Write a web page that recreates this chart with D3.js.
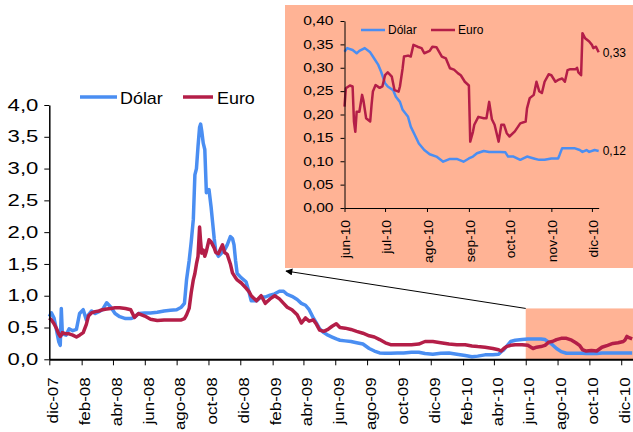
<!DOCTYPE html>
<html><head><meta charset="utf-8">
<script src="https://cdn.jsdelivr.net/npm/d3@7"></script>
<style>body{margin:0;background:#fff}svg{display:block}text{font-family:"Liberation Sans",Arial,sans-serif;fill:#000}</style>
</head><body><svg id="c" width="633" height="432"></svg>
<script>
// ---------- DATA ----------
const seriesNames = ["Dólar", "Euro"];

const mainDates = [
"2007-12-01","2007-12-05","2007-12-10","2007-12-15","2007-12-19","2007-12-22","2007-12-24","2007-12-26",
"2008-01-02","2008-01-08","2008-01-15","2008-01-22","2008-01-28","2008-02-04","2008-02-10","2008-02-14",
"2008-02-20","2008-02-27","2008-03-05","2008-03-12","2008-03-20","2008-03-28","2008-04-05","2008-04-14",
"2008-04-25","2008-05-05","2008-05-12","2008-05-20","2008-06-01","2008-06-12","2008-06-25","2008-07-08",
"2008-07-20","2008-08-01","2008-08-10","2008-08-16","2008-08-20","2008-08-25","2008-08-29","2008-09-02",
"2008-09-05","2008-09-08","2008-09-11","2008-09-14","2008-09-16","2008-09-18","2008-09-21","2008-09-24",
"2008-09-27","2008-10-02","2008-10-06","2008-10-09","2008-10-12","2008-10-15","2008-10-20","2008-10-25",
"2008-10-28","2008-11-01","2008-11-06","2008-11-12","2008-11-16","2008-11-19","2008-11-22","2008-11-25",
"2008-12-03","2008-12-12","2008-12-18","2008-12-22","2009-01-01","2009-01-10","2009-01-18","2009-01-27",
"2009-02-05","2009-02-14","2009-02-22","2009-03-01","2009-03-10","2009-03-20","2009-03-28","2009-04-05",
"2009-04-12","2009-04-20","2009-04-26","2009-05-02","2009-05-10","2009-05-18","2009-05-26","2009-06-03",
"2009-06-10","2009-06-20","2009-07-01","2009-07-12","2009-07-24","2009-08-05","2009-08-15","2009-08-25",
"2009-09-05","2009-09-15","2009-09-28","2009-10-10","2009-10-25","2009-11-08","2009-11-20","2009-12-05",
"2009-12-20","2010-01-05","2010-01-20","2010-02-05","2010-02-18","2010-03-01","2010-03-15","2010-03-30",
"2010-04-10","2010-04-15","2010-04-20","2010-04-25","2010-05-03","2010-05-12","2010-05-25","2010-06-05",
"2010-06-15","2010-06-22","2010-06-30","2010-07-08","2010-07-15","2010-07-22","2010-07-30","2010-08-08",
"2010-08-18","2010-08-28","2010-09-05","2010-09-12","2010-09-18","2010-09-25","2010-10-05","2010-10-15",
"2010-10-25","2010-11-05","2010-11-15","2010-11-25","2010-12-05","2010-12-08","2010-12-12","2010-12-16",
"2010-12-22"];

const mainDolar = [
0.67,0.73,0.65,0.45,0.28,0.22,0.80,0.40,
0.38,0.48,0.45,0.47,0.72,0.78,0.62,0.70,
0.76,0.72,0.75,0.78,0.89,0.82,0.72,0.67,
0.64,0.64,0.66,0.72,0.73,0.73,0.74,0.76,
0.77,0.78,0.82,0.88,1.25,1.55,1.85,2.20,
2.90,3.00,3.35,3.65,3.70,3.60,3.40,3.30,
2.62,2.67,2.40,2.15,1.90,1.70,1.62,1.66,
1.70,1.72,1.80,1.93,1.90,1.80,1.55,1.35,
1.28,1.22,1.05,0.92,0.92,0.98,0.98,1.01,
1.03,1.07,1.07,1.02,0.99,0.94,0.88,0.85,
0.78,0.65,0.57,0.48,0.42,0.38,0.35,0.32,
0.30,0.29,0.28,0.26,0.24,0.17,0.13,0.10,
0.095,0.095,0.10,0.10,0.11,0.11,0.09,0.08,
0.095,0.10,0.08,0.06,0.04,0.05,0.07,0.07,
0.08,0.12,0.15,0.20,0.28,0.30,0.31,0.32,
0.32,0.32,0.32,0.31,0.27,0.23,0.17,0.12,
0.095,0.095,0.095,0.095,0.095,0.09,0.09,0.09,
0.10,0.10,0.10,0.10,0.10,0.10,0.10,0.10,
0.10];

const mainEuro = [
0.65,0.62,0.56,0.48,0.40,0.36,0.38,0.42,
0.40,0.40,0.38,0.35,0.38,0.42,0.55,0.68,
0.73,0.75,0.76,0.78,0.79,0.80,0.81,0.81,
0.80,0.78,0.66,0.72,0.68,0.63,0.61,0.62,
0.62,0.62,0.62,0.64,0.70,0.80,1.05,1.25,
1.35,1.50,1.62,2.08,1.85,1.67,1.72,1.62,
1.70,1.88,1.85,1.80,1.75,1.68,1.66,1.75,
1.80,1.68,1.65,1.50,1.36,1.32,1.28,1.25,
1.20,1.12,1.06,1.00,0.92,1.00,0.88,0.95,
1.00,0.95,0.88,0.82,0.78,0.70,0.57,0.65,
0.60,0.62,0.55,0.46,0.44,0.47,0.52,0.56,
0.50,0.49,0.47,0.44,0.41,0.37,0.35,0.31,
0.26,0.23,0.23,0.23,0.23,0.24,0.28,0.28,
0.26,0.24,0.23,0.23,0.21,0.20,0.19,0.17,
0.15,0.13,0.17,0.20,0.22,0.23,0.23,0.22,
0.17,0.19,0.20,0.22,0.27,0.28,0.31,0.33,
0.33,0.30,0.26,0.22,0.15,0.13,0.14,0.13,
0.19,0.22,0.25,0.26,0.28,0.30,0.36,0.34,
0.32];

const mainTickDates = ["2007-12-01","2008-02-01","2008-04-01","2008-06-01","2008-08-01","2008-10-01","2008-12-01",
"2009-02-01","2009-04-01","2009-06-01","2009-08-01","2009-10-01","2009-12-01","2010-02-01","2010-04-01",
"2010-06-01","2010-08-01","2010-10-01","2010-12-01"];
const mainTickLabels = ["dic-07","feb-08","abr-08","jun-08","ago-08","oct-08","dic-08","feb-09","abr-09","jun-09",
"ago-09","oct-09","dic-09","feb-10","abr-10","jun-10","ago-10","oct-10","dic-10"];
const mainYTicks = [0,0.5,1,1.5,2,2.5,3,3.5,4];
const zoomWindow = ["2010-06-01", 0.8];   // highlighted period in main chart

const insetDolarDates = ["2010-06-01","2010-06-03","2010-06-07","2010-06-10","2010-06-12","2010-06-16","2010-06-20","2010-06-22",
"2010-06-26","2010-06-28","2010-07-01","2010-07-03","2010-07-07","2010-07-09","2010-07-12","2010-07-14","2010-07-18",
"2010-07-20","2010-07-23","2010-07-26","2010-07-30","2010-08-03","2010-08-08","2010-08-13","2010-08-18","2010-08-23",
"2010-08-28","2010-09-01","2010-09-04","2010-09-07","2010-09-12","2010-09-16","2010-09-24","2010-09-28","2010-09-30",
"2010-10-04","2010-10-09","2010-10-14","2010-10-19","2010-10-23","2010-10-27","2010-11-01","2010-11-06","2010-11-07",
"2010-11-09","2010-11-13","2010-11-18","2010-11-22","2010-11-24","2010-11-27","2010-11-29","2010-12-03","2010-12-06"];
const insetDolar = [0.334,0.342,0.338,0.331,0.336,0.342,0.333,0.324,
0.306,0.292,0.267,0.260,0.252,0.238,0.227,0.210,0.195,
0.174,0.156,0.138,0.124,0.115,0.110,0.099,0.105,0.105,
0.099,0.106,0.110,0.117,0.122,0.120,0.120,0.119,0.110,
0.110,0.103,0.110,0.106,0.103,0.103,0.106,0.106,0.113,
0.128,0.128,0.128,0.124,0.120,0.124,0.120,0.124,0.122];

const insetEuroDates = ["2010-06-01","2010-06-02","2010-06-05","2010-06-07","2010-06-08","2010-06-09","2010-06-10","2010-06-12",
"2010-06-14","2010-06-15","2010-06-17","2010-06-20","2010-06-21","2010-06-22","2010-06-24","2010-06-27","2010-06-29",
"2010-07-01","2010-07-03","2010-07-06","2010-07-08","2010-07-11","2010-07-12","2010-07-14","2010-07-15","2010-07-18",
"2010-07-20","2010-07-22","2010-07-25","2010-07-28","2010-07-30","2010-08-03","2010-08-05","2010-08-08","2010-08-12",
"2010-08-15","2010-08-18","2010-08-21","2010-08-24","2010-08-26","2010-08-29","2010-09-01","2010-09-02","2010-09-04",
"2010-09-05","2010-09-08","2010-09-12","2010-09-14","2010-09-16","2010-09-18","2010-09-20","2010-09-23","2010-09-25",
"2010-09-27","2010-09-29","2010-10-01","2010-10-05","2010-10-09","2010-10-13","2010-10-14","2010-10-16","2010-10-19",
"2010-10-21","2010-10-23","2010-10-25","2010-10-27","2010-10-30","2010-11-01","2010-11-04","2010-11-06","2010-11-09",
"2010-11-11","2010-11-13","2010-11-15","2010-11-19","2010-11-20","2010-11-21","2010-11-23","2010-11-24","2010-11-26",
"2010-11-29","2010-12-01","2010-12-02","2010-12-04","2010-12-06"];
const insetEuro = [0.217,0.256,0.262,0.260,0.185,0.163,0.206,0.206,
0.242,0.230,0.192,0.185,0.220,0.249,0.263,0.257,0.260,
0.284,0.290,0.281,0.252,0.249,0.260,0.299,0.324,0.326,
0.324,0.349,0.345,0.342,0.331,0.336,0.345,0.344,0.324,
0.320,0.299,0.296,0.288,0.284,0.270,0.262,0.142,0.163,
0.178,0.195,0.192,0.192,0.227,0.190,0.178,0.142,0.178,
0.178,0.160,0.153,0.164,0.181,0.185,0.213,0.235,0.242,
0.270,0.250,0.246,0.270,0.286,0.284,0.270,0.274,0.277,
0.270,0.295,0.297,0.297,0.300,0.290,0.284,0.374,0.363,
0.356,0.349,0.342,0.345,0.333];

const insetTickDates = ["2010-06-01","2010-07-01","2010-08-01","2010-09-01","2010-10-01","2010-11-01","2010-12-01"];
const insetTickLabels = ["jun-10","jul-10","ago-10","sep-10","oct-10","nov-10","dic-10"];
const insetYTicks = [0,0.05,0.1,0.15,0.2,0.25,0.3,0.35,0.4];
const insetEndLabels = ["0,12","0,33"];

// ---------- DRAW ----------
const parse = d3.utcParse("%Y-%m-%d");
const BLUE = "#4A8EF2", RED = "#B41E48", SALMON = "#FFB395";
const svg = d3.select("#c");

const xMain = d3.scaleUtc().domain([parse("2007-12-01"), parse("2010-12-23")]).range([49.3, 632.7]);
const yMain = d3.scaleLinear().domain([0, 4]).range([359.3, 105]);

// zoom box in main chart
const zx0 = xMain(parse(zoomWindow[0])), zy0 = yMain(zoomWindow[1]);
svg.append("rect").attr("x", zx0).attr("y", zy0).attr("width", 633 - zx0).attr("height", yMain(0) - zy0).attr("fill", SALMON);

const mainD = mainDates.map(parse);
const lineMain = vals => d3.line().x((d, i) => xMain(mainD[i])).y(d => yMain(d))(vals);
svg.append("path").attr("d", lineMain(mainDolar)).attr("fill", "none").attr("stroke", BLUE).attr("stroke-width", 3.5).attr("stroke-linejoin", "round");
svg.append("path").attr("d", lineMain(mainEuro)).attr("fill", "none").attr("stroke", RED).attr("stroke-width", 3.5).attr("stroke-linejoin", "round");

// main axes
const gy = svg.append("g").attr("transform", "translate(49.3,0)")
  .call(d3.axisLeft(yMain).tickValues(mainYTicks).tickSize(5).tickSizeOuter(0).tickFormat(d => d.toFixed(1).replace(".", ",")));
gy.selectAll("text").style("font-size", "16px").attr("x", 0).attr("transform", "translate(-11,0) scale(1.38,1)");
gy.select(".domain").attr("stroke-width", 1.5);
const gx = svg.append("g").attr("transform", "translate(0,359.3)")
  .call(d3.axisBottom(xMain).tickValues(mainTickDates.map(parse)).tickSize(6).tickSizeOuter(0).tickFormat((d, i) => mainTickLabels[i]));
gx.select(".domain").attr("stroke-width", 2);
const XS = 1.13;
gx.selectAll("text").style("font-size", "15px").attr("transform", `rotate(-90) scale(${XS},1)`).attr("x", -18 / XS).attr("y", 0).attr("dy", "0.55em").style("text-anchor", "end");
svg.selectAll(".tick line").attr("stroke", "#000");
svg.selectAll(".domain").attr("stroke", "#000");

// main legend
const lg = svg.append("g");
[[80, 117, 120, BLUE, seriesNames[0]], [183, 213, 217, RED, seriesNames[1]]].forEach(([a, b, t, c, n]) => {
  lg.append("line").attr("x1", a).attr("x2", b).attr("y1", 97).attr("y2", 97).attr("stroke", c).attr("stroke-width", 3.5);
  lg.append("text").attr("x", 0).attr("y", 0).attr("transform", `translate(${t},103.5) scale(1.12,1)`).style("font-size", "16px").text(n);
});

// inset background
svg.append("rect").attr("x", 285).attr("y", 5).attr("width", 348).attr("height", 263).attr("fill", SALMON);

// arrow
svg.append("defs").append("marker").attr("id", "ah").attr("viewBox", "0 0 10 10").attr("refX", 9).attr("refY", 5)
  .attr("markerWidth", 8).attr("markerHeight", 7).attr("orient", "auto-start-reverse").attr("markerUnits", "userSpaceOnUse")
  .append("path").attr("d", "M0,0 L10,5 L0,10 z").attr("fill", "#000");
svg.append("line").attr("x1", zx0).attr("y1", zy0).attr("x2", 286).attr("y2", 271).attr("stroke", "#000").attr("stroke-width", 1).attr("marker-end", "url(#ah)");

const xIn = d3.scaleUtc().domain([parse("2010-06-01"), parse("2010-12-06")]).range([344.5, 344.5 + 188 * 1.352]);
const yIn = d3.scaleLinear().domain([0, 0.4]).range([208, 21]);

const lineIn = (dates, vals) => d3.line().x((d, i) => xIn(parse(dates[i]))).y(d => yIn(d))(vals);
svg.append("path").attr("d", lineIn(insetDolarDates, insetDolar)).attr("fill", "none").attr("stroke", BLUE).attr("stroke-width", 2.5).attr("stroke-linejoin", "round");
svg.append("path").attr("d", lineIn(insetEuroDates, insetEuro)).attr("fill", "none").attr("stroke", RED).attr("stroke-width", 2.5).attr("stroke-linejoin", "round");

const giy = svg.append("g").attr("transform", "translate(344.5,0)")
  .call(d3.axisLeft(yIn).tickValues(insetYTicks).tickSize(4).tickSizeOuter(0).tickFormat(d => d.toFixed(2).replace(".", ",")));
giy.selectAll("text").style("font-size", "12px").attr("x", 0).attr("transform", "translate(-11,0) scale(1.3,1)");
const gix = svg.append("g").attr("transform", "translate(0,208)")
  .call(d3.axisBottom(xIn).tickValues(insetTickDates.map(parse)).tickSize(4).tickSizeOuter(0).tickFormat((d, i) => insetTickLabels[i]));
gix.selectAll("text").style("font-size", "12px").attr("transform", "rotate(-90) scale(1.15,1)").attr("x", -12 / 1.15).attr("y", 0).attr("dy", "0.45em").style("text-anchor", "end");
svg.selectAll(".tick line").attr("stroke", "#000");
svg.selectAll(".domain").attr("stroke", "#000");

// inset legend
[[361, 385, 388, BLUE, seriesNames[0]], [431, 455, 458, RED, seriesNames[1]]].forEach(([a, b, t, c, n]) => {
  svg.append("line").attr("x1", a).attr("x2", b).attr("y1", 30).attr("y2", 30).attr("stroke", c).attr("stroke-width", 2.5);
  svg.append("text").attr("x", t).attr("y", 34).style("font-size", "12px").text(n);
});

// end labels
const lastD = insetDolar[insetDolar.length - 1], lastE = insetEuro[insetEuro.length - 1];
svg.append("text").attr("x", xIn(parse(insetDolarDates[insetDolarDates.length - 1])) + 4).attr("y", yIn(lastD)).attr("dy", "0.35em").style("font-size", "12px").text(insetEndLabels[0]);
svg.append("text").attr("x", xIn(parse(insetEuroDates[insetEuroDates.length - 1])) + 4).attr("y", yIn(lastE)).attr("dy", "0.35em").style("font-size", "12px").text(insetEndLabels[1]);
</script></body></html>
